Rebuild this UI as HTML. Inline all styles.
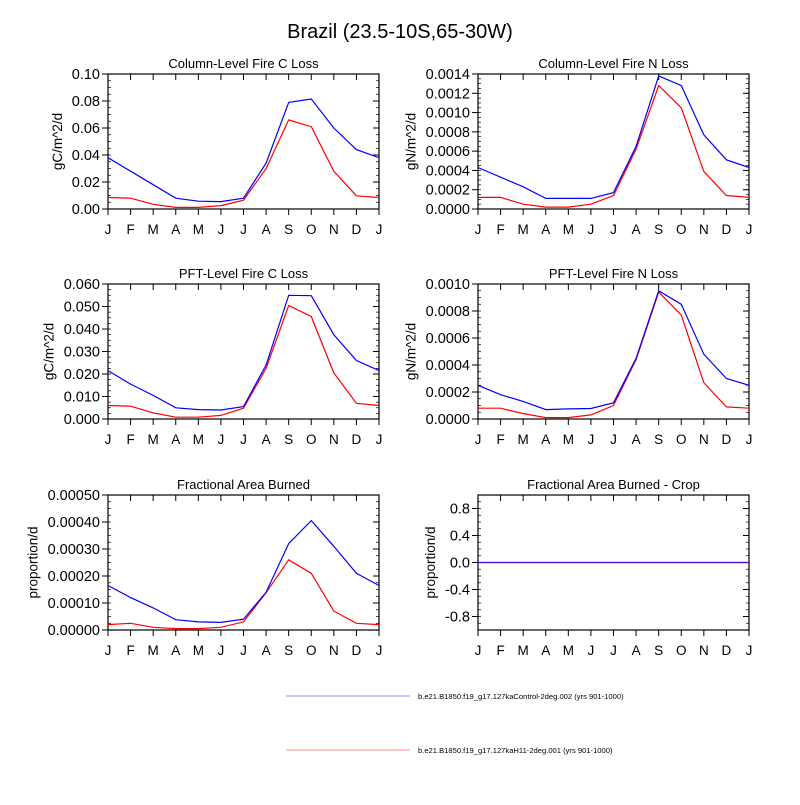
<!DOCTYPE html>
<html><head><meta charset="utf-8"><style>body{margin:0;background:#fff}svg text{font-family:"Liberation Sans",sans-serif}</style></head>
<body>
<svg id="c" width="800" height="800" xmlns="http://www.w3.org/2000/svg">
<rect width="800" height="800" fill="#fff"/>
<text x="400" y="38" font-size="20" text-anchor="middle">Brazil (23.5-10S,65-30W)</text>
<g>
<line x1="286" y1="696" x2="410" y2="696" stroke="#b4b4ff" stroke-width="1.5"/>
<text x="418" y="699" font-size="7.6">b.e21.B1850.f19_g17.127kaControl-2deg.002 (yrs 901-1000)</text>
<line x1="286" y1="750" x2="410" y2="750" stroke="#ffb4b4" stroke-width="1.5"/>
<text x="418" y="753" font-size="7.6">b.e21.B1850.f19_g17.127kaH11-2deg.001 (yrs 901-1000)</text>
</g>
</svg>
<script>
const months=["J","F","M","A","M","J","J","A","S","O","N","D","J"];
const titles=["Column-Level Fire C Loss","Column-Level Fire N Loss","PFT-Level Fire C Loss","PFT-Level Fire N Loss","Fractional Area Burned","Fractional Area Burned - Crop"];
const units=["gC/m^2/d","gN/m^2/d","gC/m^2/d","gN/m^2/d","proportion/d","proportion/d"];
const yMins=[0,0,0,0,0,-1];
const yMaxs=[0.10,0.0014,0.06,0.001,0.0005,1];
const yStep=[0.02,0.0002,0.01,0.0002,0.0001,0.4];
const yDecimals=[2,4,3,4,5,1];
const blue1=[.038,.028,.018,.008,.0058,.0055,.008,.034,.079,.0815,.060,.044,.038];
const red1=[.0085,.008,.0035,.0012,.0012,.0025,.0065,.030,.066,.061,.028,.0098,.0085];
const blue2=[.00043,.00033,.00023,.00011,.00011,.00011,.00017,.00065,.00138,.00128,.00077,.00051,.00043];
const red2=[.00012,.00012,.00005,.00002,.00002,.00005,.00014,.00062,.00128,.00105,.00039,.00014,.00012];
const blue3=[.0215,.0155,.0105,.005,.0042,.004,.0055,.024,.055,.0548,.0375,.026,.0215];
const red3=[.006,.0057,.0027,.0008,.0008,.0016,.0048,.0225,.0505,.0455,.0205,.007,.006];
const blue4=[.00025,.00018,.00013,.00007,.000075,.000078,.00012,.00045,.00095,.00085,.00048,.0003,.00025];
const red4=[.00008,.00008,.00004,.00001,.00001,.00003,.0001,.00044,.00094,.00077,.00027,.00009,.00008];
const blue5=[.000165,.00012,.000082,.000038,.00003,.000028,.00004,.00014,.00032,.000405,.00031,.00021,.000165];
const red5=[.00002,.000025,.00001,.000005,.000005,.00001,.00003,.000138,.00026,.00021,.00007,.000025,.00002];
const blue6=[0,0,0,0,0,0,0,0,0,0,0,0,0];
const red6=[0,0,0,0,0,0,0,0,0,0,0,0,0];
const blues=[blue1,blue2,blue3,blue4,blue5,blue6];
const reds=[red1,red2,red3,red4,red5,red6];

const svg=document.getElementById('c');const NS="http://www.w3.org/2000/svg";
function mk(t,a,p){const e=document.createElementNS(NS,t);for(const k in a)e.setAttribute(k,a[k]);p.appendChild(e);return e;}
const colX=[108,478],rowY=[74,284,495],W=271,H=135;
for(let i=0;i<6;i++){
  const L=colX[i%2],T=rowY[Math.floor(i/2)],R=L+W,B=T+H;
  const g=mk('g',{},svg);
  
  
  const xs=k=>L+k*W/12;
  const ys=v=>B-(v-yMins[i])/(yMaxs[i]-yMins[i])*H;
  const t=mk('text',{x:(L+R)/2,y:T-6,'font-size':13,'text-anchor':'middle'},g);t.textContent=titles[i];
  
  
  for(let k=0;k<13;k++){
    const x=xs(k);
    mk('line',{x1:x,y1:B,x2:x,y2:B+6,stroke:'#000'},g);
    mk('line',{x1:x,y1:T,x2:x,y2:T+6,stroke:'#000'},g);
    const lt=mk('text',{x:x,y:B+25,'font-size':13.5,'text-anchor':'middle'},g);lt.textContent=months[k];
    
    
  }
  const st=yStep[i];
  let start=i==5?-0.8:yMins[i];
  const n=Math.round(((i==5?0.8:yMaxs[i])-start)/st);
  let maxw=0;
  for(let k=0;k<=n;k++){
    const v=start+k*st,y=ys(v);
    mk('line',{x1:L-6,y1:y,x2:L,y2:y,stroke:'#000'},g);
    mk('line',{x1:R-6,y1:y,x2:R,y2:y,stroke:'#000'},g);
    const lt=mk('text',{x:L-8,y:y+5,'font-size':14.5,'text-anchor':'end'},g);lt.textContent=v.toFixed(yDecimals[i]);
    
    
    maxw=Math.max(maxw,lt.getBBox().width);
  }
  const tx=L-8-maxw-10;
  const yt=mk('text',{x:0,y:0,'font-size':13.5,'text-anchor':'middle',transform:`translate(${tx},${(T+B)/2}) rotate(-90)`},g);yt.textContent=units[i];
  
  
  const mst=i==5?0.1:st/4;
  const mn=Math.round((yMaxs[i]-yMins[i])/mst);
  for(let k=0;k<=mn;k++){const y=ys(yMins[i]+k*mst);
    mk('line',{x1:L,y1:y,x2:L+3,y2:y,stroke:'#000','stroke-width':0.7},g);
    mk('line',{x1:R-3,y1:y,x2:R,y2:y,stroke:'#000','stroke-width':0.7},g);}
  mk('rect',{x:L,y:T,width:W,height:H,fill:'none',stroke:'#000','stroke-width':1.2},g);
  const pts=a=>a.map((v,k)=>xs(k).toFixed(1)+','+ys(v).toFixed(1)).join(' ');
  const lr=mk('polyline',{points:pts(reds[i]),fill:'none',stroke:'#f00','stroke-width':1.2},g);
  
  
  const lb=mk('polyline',{points:pts(blues[i]),fill:'none',stroke:i==5?'#5010d0':'#00f','stroke-width':1.2},g);
  
  
}
</script>
</body></html>
